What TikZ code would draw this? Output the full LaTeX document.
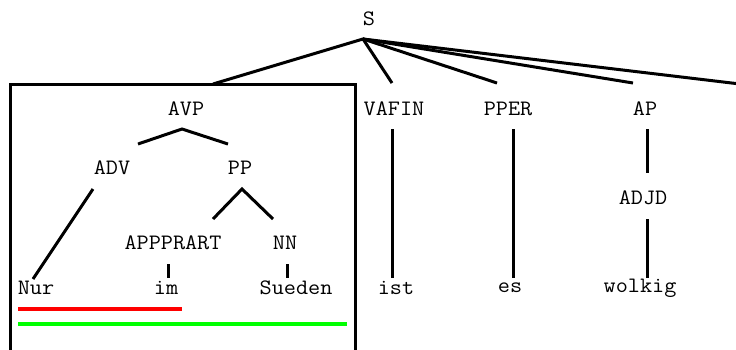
\documentclass[tikz,border=0pt]{standalone}
\usepackage{fontspec}
\newfontfamily\treefont[FakeStretch=1.07]{Latin Modern Mono}
\begin{document}
\begin{tikzpicture}[x=1pt,y=-1pt,
  lbl/.style={font=\treefont\fontsize{22}{22}\selectfont,inner sep=0pt,anchor=center},
  edge/.style={line width=3pt},
  frame/.style={line width=3pt},
  redbar/.style={line width=4pt,draw={rgb,255:red,255;green,0;blue,0}},
  greenbar/.style={line width=4pt,draw={rgb,255:red,0;green,255;blue,0}}]
\clip (0,0) rectangle (736,349);
\fill[white] (0,0) rectangle (736,349);
% labels
\node[lbl] (S) at (369,19) {S};
\node[lbl] (AVP) at (186,109) {AVP};
\node[lbl] (ADV) at (112,168) {ADV};
\node[lbl] (PP) at (240,168) {PP};
\node[lbl] (APPPRART) at (173,243) {APPPRART};
\node[lbl] (NN) at (285,243) {NN};
\node[lbl] (Nur) at (36,288) {Nur};
\node[lbl] (im) at (166,288) {im};
\node[lbl] (Sueden) at (296,288) {Sueden};
\node[lbl] (VAFIN) at (394,109) {VAFIN};
\node[lbl] (PPER) at (508,109) {PPER};
\node[lbl] (AP) at (645,109) {AP};
\node[lbl] (ADJD) at (643,198) {ADJD};
\node[lbl] (ist) at (396,288) {ist};
\node[lbl] (es) at (510,288) {es};
\node[lbl] (wolkig) at (640,288) {wolkig};
% connector end points
\coordinate (Sr) at (363,39);
\coordinate (boxtop) at (213,84);
\coordinate (VAFINt) at (392,83);
\coordinate (PPERt) at (497,83);
\coordinate (APt) at (633,83);
\coordinate (offright) at (740,84);
\coordinate (AVPr) at (182,129);
\coordinate (ADVt) at (138,144);
\coordinate (PPt) at (228,144);
\coordinate (ADVb) at (93,189);
\coordinate (Nurt) at (33,279);
\coordinate (PPb) at (242,189);
\coordinate (APPt) at (213,219);
\coordinate (NNt) at (273,219);
\coordinate (APPb) at (168,264);
\coordinate (imt) at (168,278);
\coordinate (NNb) at (287,264);
\coordinate (Suedent) at (287,278);
\coordinate (VAFINb) at (392,129);
\coordinate (istt) at (392,278);
\coordinate (PPERb) at (513,129);
\coordinate (est) at (513,278);
\coordinate (APb) at (647,129);
\coordinate (ADJDt) at (647,173);
\coordinate (ADJDb) at (647,219);
\coordinate (wolkigt) at (647,278);
\coordinate (boxtl) at (10,84);
\coordinate (boxbr) at (355,380);
\coordinate (r1) at (18,309);
\coordinate (r2) at (182,309);
\coordinate (g1) at (18,324);
\coordinate (g2) at (347,324);
% frame
\draw[frame] (boxtl) rectangle (boxbr);
% edges
\draw[edge] (boxtop) -- (Sr) -- (VAFINt);
\draw[edge] (Sr) -- (PPERt);
\draw[edge] (Sr) -- (APt);
\draw[edge] (Sr) -- (offright);
\draw[edge] (ADVt) -- (AVPr) -- (PPt);
\draw[edge] (ADVb) -- (Nurt);
\draw[edge] (APPt) -- (PPb) -- (NNt);
\draw[edge] (APPb) -- (imt);
\draw[edge] (NNb) -- (Suedent);
\draw[edge] (VAFINb) -- (istt);
\draw[edge] (PPERb) -- (est);
\draw[edge] (APb) -- (ADJDt);
\draw[edge] (ADJDb) -- (wolkigt);
% bars
\draw[redbar] (r1) -- (r2);
\draw[greenbar] (g1) -- (g2);
\end{tikzpicture}
\end{document}
